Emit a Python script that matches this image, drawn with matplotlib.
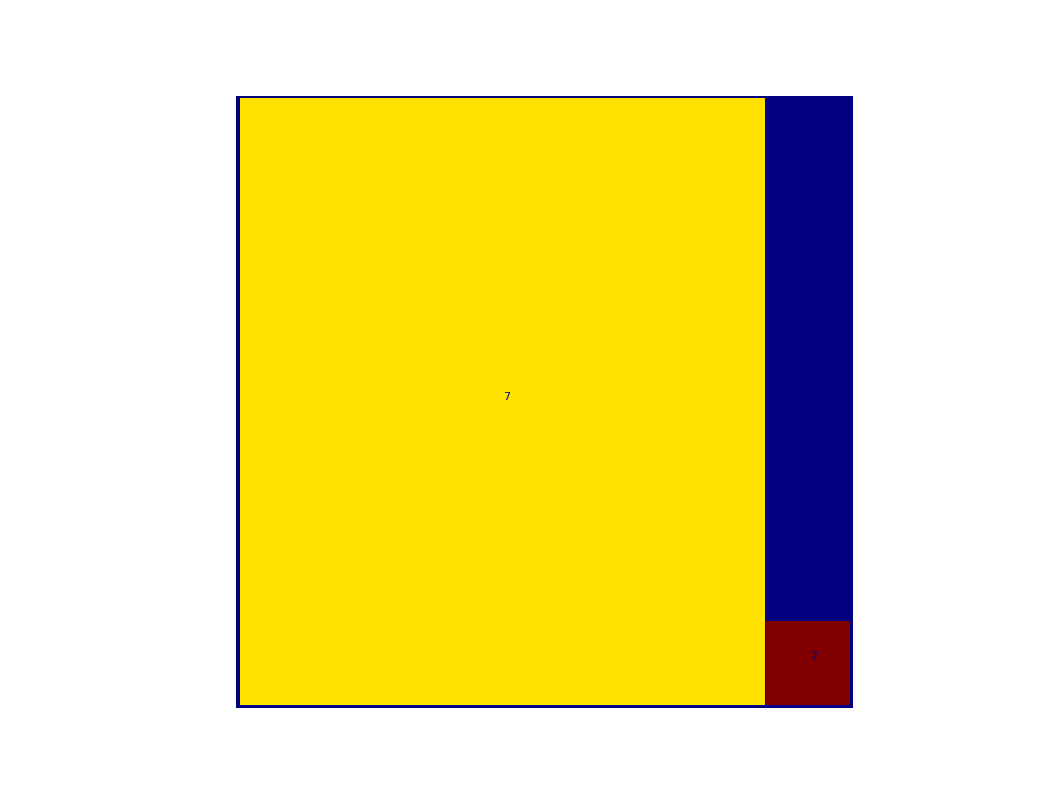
import numpy as np
import matplotlib
matplotlib.use("Agg")
import matplotlib.pyplot as plt
from matplotlib.colors import ListedColormap

# label image: background 0, regions drawn as rectangles (col0, col1, row0, row1)
img_w, img_h = 616, 612
region_labels = [1, 2]
region_boxes = [(4, 528, 3, 609), (529, 613, 525, 609)]
region_text = ['7', '7']
text_pos = [(270, 301), (576, 560)]
region_colors = ['#000080', '#ffe200', '#800000']

labels = np.zeros((img_h, img_w), dtype=int)
for lab, (c0, c1, r0, r1) in zip(region_labels, region_boxes):
    labels[r0:r1, c0:c1] = lab

fig = plt.figure(figsize=(10.62, 7.96), dpi=100)
ax = fig.add_subplot(111)
ax.imshow(labels, cmap=ListedColormap(region_colors), interpolation='nearest',
          vmin=0, vmax=2)
for (x, y), t in zip(text_pos, region_text):
    ax.text(x, y, t, color='#000080', fontsize=8, ha='center', va='center')
ax.axis('off')
fig.savefig('out.png', dpi=100)
